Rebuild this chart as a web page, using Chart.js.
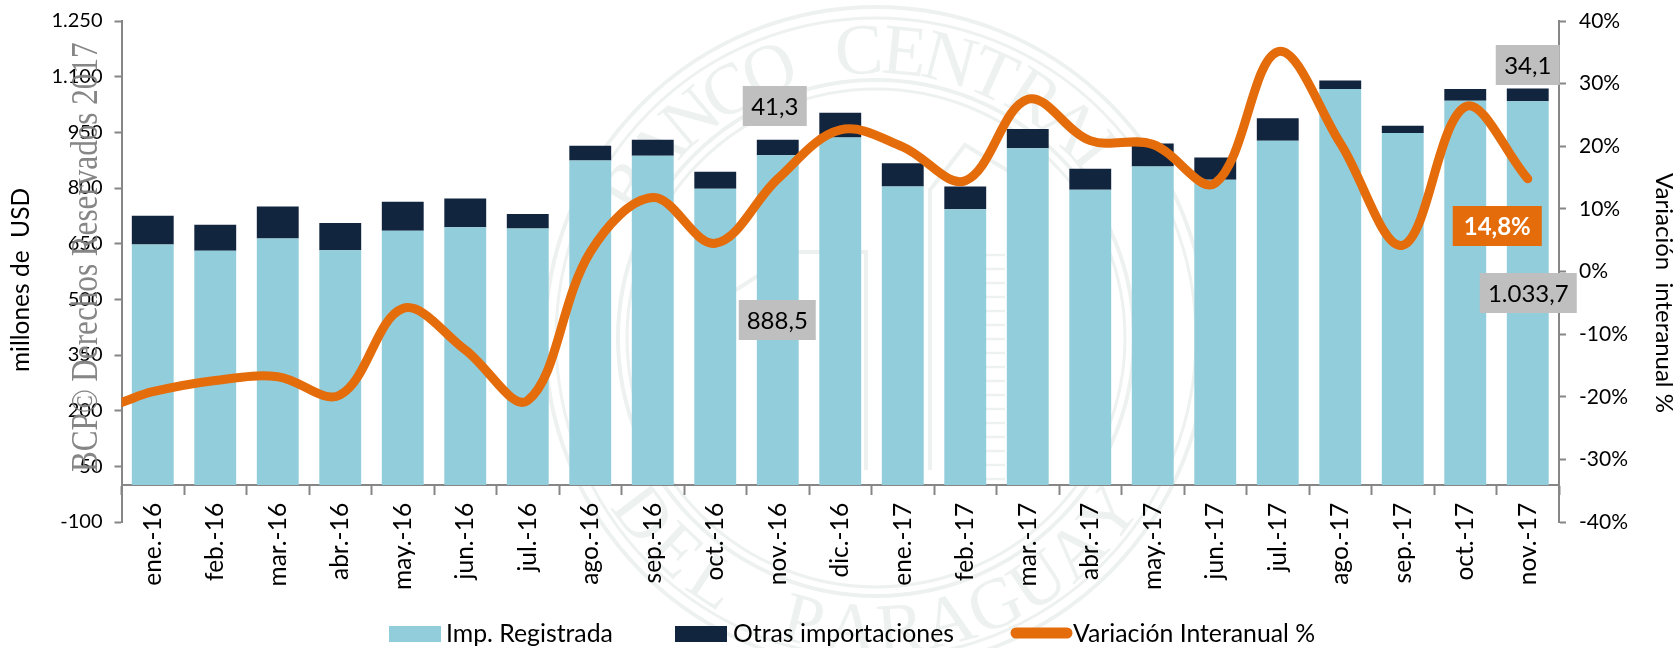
<!DOCTYPE html>
<html>
<head>
<meta charset="utf-8">
<script src="https://cdn.jsdelivr.net/npm/chart.js@4"></script>
<style>html,body{margin:0;padding:0;background:#fff}#w{width:1677px;height:648px;position:relative}</style>
</head>
<body>
<div id="w"><canvas id="c" width="1677" height="648"></canvas></div>
<script>
const categories = ['ene.-16','feb.-16','mar.-16','abr.-16','may.-16','jun.-16','jul.-16','ago.-16','sep.-16','oct.-16','nov.-16','dic.-16','ene.-17','feb.-17','mar.-17','abr.-17','may.-17','jun.-17','jul.-17','ago.-17','sep.-17','oct.-17','nov.-17'];
const registrada = [648,631,664,632,685,694,691,874,887,798,888.5,936,804,743,907,795,858,822,927,1067,948,1035,1033.7];
const otras = [77,70,86,74,78,78,39,40,43,46,41.3,67,63,61,52,57,62,60,61,23,20,32,34.1];
const variacion = [-19.2,-17.4,-16.8,-19.7,-5.9,-12.5,-20.6,3.1,11.8,4.5,14.8,22.6,19.9,14.5,27.5,20.9,20.3,14.1,35.1,20.5,4.2,26.3,14.8];
const variacionPrevia = -20.9;
const leftTicksStep = 150;
const rightTicksStep = 10;
const tituloIzq = 'millones de  USD';
const tituloDer = 'Variación  interanual %';

const FONT = 'Lato, "Open Sans", sans-serif';
const fmt = v => String(v).replace('.', ',');
const miles = v => {
  const s = v.toFixed(1).split('.');
  return s[0].replace(/\B(?=(\d{3})+$)/g, '.') + ',' + s[1];
};

const seal = {
  id: 'seal',
  beforeDraw(chart) {
    const c = chart.ctx, cx = 876, cy = 338;
    c.save();
    c.strokeStyle = '#edf1f0';
    c.fillStyle = '#edf1f0';
    [[331,4],[320,3],[258,4],[249,3]].forEach(([r,w]) => {
      c.lineWidth = w; c.beginPath(); c.arc(cx, cy, r, 0, Math.PI*2); c.stroke();
    });
    c.font = '72px "Liberation Serif", serif';
    c.textAlign = 'center'; c.textBaseline = 'alphabetic';
    const top = 'BANCO CENTRAL', bot = 'DEL PARAGUAY';
    const stepT = 0.16, stepB = 0.168;
    [...top].forEach((ch, i) => {
      const a = -Math.PI/2 - 0.06 + (i-(top.length-1)/2)*stepT;
      c.save(); c.translate(cx, cy); c.rotate(a + Math.PI/2);
      c.fillText(ch, 0, -265); c.restore();
    });
    [...bot].forEach((ch, i) => {
      const a = (i-(bot.length-1)/2)*stepB;
      c.save(); c.translate(cx, cy); c.rotate(-a);
      c.fillText(ch, 0, 315); c.restore();
    });
    // edificio
    c.lineWidth = 4;
    c.beginPath();
    c.moveTo(720,470); c.lineTo(720,300); c.lineTo(795,252); c.lineTo(866,252); c.lineTo(866,470); c.stroke();
    c.beginPath();
    c.moveTo(930,470); c.lineTo(930,190); c.lineTo(965,145); c.lineTo(1040,190); c.lineTo(1040,470); c.stroke();
    c.lineWidth = 2.5;
    for (let y = 255; y < 480; y += 14) {
      c.beginPath(); c.moveTo(972,y); c.lineTo(1005,y); c.stroke();
    }
    c.restore();
  }
};

const overlays = {
  id: 'overlays',
  afterDraw(chart) {
    const c = chart.ctx, X = chart.scales.x;
    const boxes = [
      {i:10, text: miles(registrada[10]), dx:-0.5, top:300, w:77, bg:'#BFBFBF', fg:'#000', weight:'400'},
      {i:10, text: fmt(otras[10]), dx:-3, top:86, w:64, bg:'#BFBFBF', fg:'#000', weight:'400'},
      {i:22, text: fmt(otras[22]), dx:0, top:45, w:64, bg:'#BFBFBF', fg:'#000', weight:'400'},
      {i:22, text: miles(registrada[22]), dx:0.5, top:273, w:97, bg:'#BFBFBF', fg:'#000', weight:'400'},
      {i:22, text: fmt(variacion[22]) + '%', dx:-30.5, top:206, w:89, bg:'#E46C0A', fg:'#fff', weight:'700'}
    ];
    c.save();
    boxes.forEach(b => {
      const cx = X.getPixelForValue(b.i) + b.dx;
      c.fillStyle = b.bg;
      c.fillRect(cx - b.w/2, b.top, b.w, 40);
      c.fillStyle = b.fg;
      c.font = b.weight + ' 24px ' + FONT;
      c.textAlign = 'center'; c.textBaseline = 'middle';
      c.fillText(b.text, cx, b.top + 21);
    });
    // leyenda
    const ds = chart.data.datasets;
    const y = 634;
    c.font = '24.8px ' + FONT; c.textAlign = 'left'; c.textBaseline = 'middle'; c.fillStyle = '#000';
    c.fillStyle = ds[0].backgroundColor; c.fillRect(389, y-8, 52, 16);
    c.fillStyle = '#000'; c.fillText(ds[0].label, 446, y);
    c.fillStyle = ds[1].backgroundColor; c.fillRect(675, y-8, 52, 16);
    c.fillStyle = '#000'; c.fillText(ds[1].label, 733, y);
    c.strokeStyle = ds[2].borderColor; c.lineWidth = 11; c.lineCap = 'round';
    c.beginPath(); c.moveTo(1016, y-1); c.lineTo(1067, y-1); c.stroke();
    c.fillText(ds[2].label, 1073, y);
    // titulos de ejes
    c.save();
    c.textAlign = 'center'; c.textBaseline = 'middle'; c.fillStyle = '#000';
    c.translate(21, 280); c.rotate(-Math.PI/2);
    c.font = '24.5px ' + FONT; c.fillText(tituloIzq, 0, 0);
    c.restore();
    c.save();
    c.textAlign = 'center'; c.textBaseline = 'middle'; c.fillStyle = '#000';
    c.translate(1664, 293); c.rotate(Math.PI/2);
    c.font = '24px ' + FONT; c.fillText(tituloDer, 0, 0);
    c.restore();
    // marca de agua
    c.translate(87, 472); c.rotate(-Math.PI/2); c.scale(0.82, 1);
    c.font = '38px "Liberation Serif", serif';
    c.fillStyle = 'rgba(128,128,128,0.95)';
    c.textAlign = 'left'; c.textBaseline = 'middle';
    c.fillText('BCP© Derechos Reservados 2017', 0, 0);
    c.restore();
  }
};

const linePts = [{x:-0.5, y:variacionPrevia}].concat(variacion.map((v,i) => ({x:i, y:v})));
const axisGray = '#868686';

new Chart(document.getElementById('c'), {
  type: 'bar',
  data: {
    labels: categories,
    datasets: [
      {type:'bar', label:'Imp. Registrada', data: registrada, backgroundColor:'#92CDDC', xAxisID:'x', yAxisID:'y', categoryPercentage:1, barPercentage:0.67, order:2},
      {type:'bar', label:'Otras importaciones', data: otras, backgroundColor:'#11253F', xAxisID:'x', yAxisID:'y', categoryPercentage:1, barPercentage:0.67, order:2},
      {type:'line', label:'Variación Interanual %', data: linePts, parsing:false, borderColor:'#E46C0A', backgroundColor:'#E46C0A', borderWidth:9, pointRadius:0, tension:0.36, borderCapStyle:'round', borderJoinStyle:'round', fill:false, clip:0, xAxisID:'x', yAxisID:'y2', order:1}
    ]
  },
  options: {
    responsive:false, animation:false,
    layout:{padding:{left:0,right:0,top:21,bottom:126}},
    plugins:{legend:{display:false}, tooltip:{enabled:false}},
    scales:{
      x:{
        type:'category', stacked:true, position:{y:0}, offset:true,
        grid:{display:true, drawOnChartArea:false, drawTicks:true, tickLength:9, tickColor:axisGray, tickWidth:2, offset:true},
        border:{display:true, color:axisGray, width:2},
        ticks:{autoSkip:false, minRotation:90, maxRotation:90, padding:9, color:'#000', font:{family:FONT,size:24.5}}
      },
      y:{
        type:'linear', stacked:true, position:'left', min:-100, max:1250,
        afterFit(s){ s.width = 121.5; s.paddingTop = 0; s.paddingBottom = 0; },
        grid:{drawOnChartArea:false, tickLength:7, tickColor:axisGray, tickWidth:2},
        border:{display:true, color:axisGray, width:2},
        ticks:{stepSize:leftTicksStep, padding:12, color:'#000', font:{family:FONT,size:20},
          callback:v => String(v).replace(/\B(?=(\d{3})+$)/g,'.')}
      },
      y2:{
        type:'linear', position:'right', min:-40, max:40,
        afterFit(s){ s.width = 118; s.paddingTop = 0; s.paddingBottom = 0; },
        grid:{drawOnChartArea:false, tickLength:7, tickColor:axisGray, tickWidth:2},
        border:{display:true, color:axisGray, width:2},
        ticks:{stepSize:rightTicksStep, padding:13, color:'#000', font:{family:FONT,size:21}, callback:v => v + '%'}
      }
    }
  },
  plugins:[seal, overlays]
});
</script>
</body>
</html>
